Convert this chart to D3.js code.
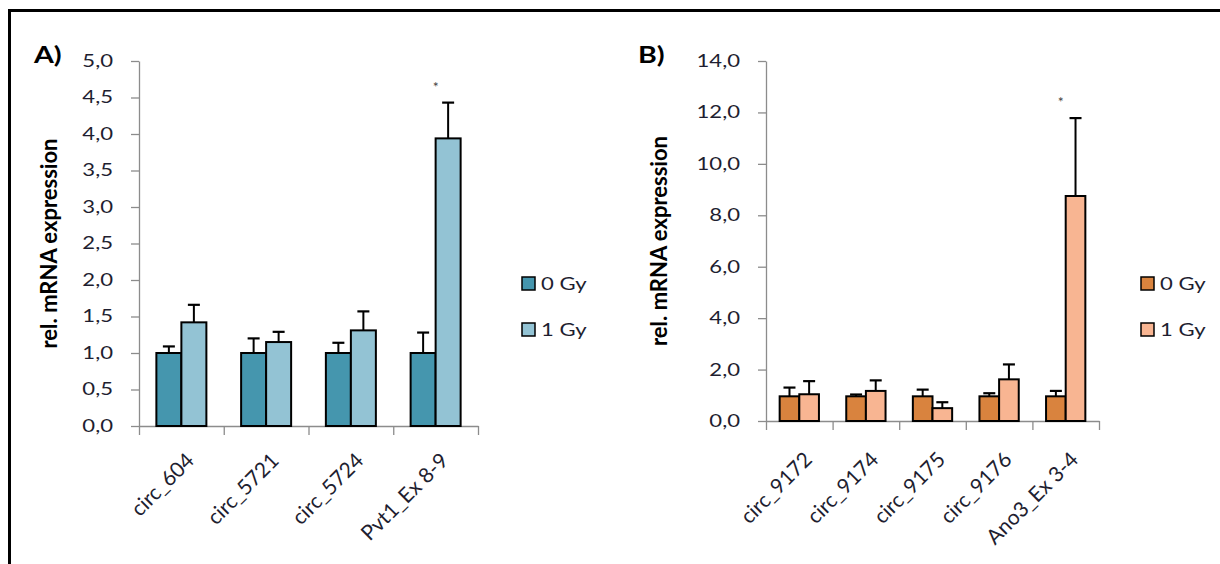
<!DOCTYPE html>
<html>
<head>
<meta charset="utf-8">
<script src="https://cdn.jsdelivr.net/npm/d3@7"></script>
<style>
  html, body { margin: 0; padding: 0; background: #fff; }
  svg { display: block; }
  text { font-family: Lato, "Open Sans", sans-serif; }
</style>
</head>
<body>
<svg id="chart" width="1220" height="564"></svg>
<script>
// ---- Data ----
const seriesNames = ["0 Gy", "1 Gy"];

const catsA = ["circ_604", "circ_5721", "circ_5724", "Pvt1_Ex 8-9"];
const a0 = [1.00, 1.00, 1.00, 1.00];
const a0Err = [0.09, 0.20, 0.14, 0.28];
const a1 = [1.42, 1.15, 1.31, 3.94];
const a1Err = [0.24, 0.14, 0.26, 0.49];
const ticksA = [0, 0.5, 1, 1.5, 2, 2.5, 3, 3.5, 4, 4.5, 5];
const sigA = ["", "", "", "*"];

const catsB = ["circ_9172", "circ_9174", "circ_9175", "circ_9176", "Ano3_Ex 3-4"];
const b0 = [0.96, 0.96, 0.96, 0.96, 0.96];
const b0Err = [0.34, 0.07, 0.26, 0.12, 0.21];
const b1 = [1.04, 1.17, 0.50, 1.62, 8.75];
const b1Err = [0.51, 0.41, 0.23, 0.58, 3.03];
const ticksB = [0, 2, 4, 6, 8, 10, 12, 14];
const sigB = ["", "", "", "", "*"];

const yTitle = "rel. mRNA expression";

// ---- Drawing ----
const svg = d3.select("#chart");
const TXT = "#1e1e30";
const SX = 1.3; // horizontal stretch of the lettering

function stretch(sel, s) {
  sel.each(function () {
    const t = d3.select(this);
    const x = +t.attr("x") || 0, y = +t.attr("y") || 0;
    t.attr("x", 0).attr("y", 0).attr("transform", `translate(${x},${y}) scale(${s},1)`);
  });
}

// frame (top and left edges visible)
svg.append("path")
  .attr("d", "M9.5,564 V10.5 H1220")
  .attr("fill", "none").attr("stroke", "#000").attr("stroke-width", 3);

const fmt = v => d3.format(".1f")(v).replace(".", ",");

function drawPanel(cfg) {
  const g = svg.append("g");
  const y = d3.scaleLinear().domain([0, cfg.ticks[cfg.ticks.length - 1]]).range([cfg.y0, cfg.y1]);
  const x = d3.scaleBand().domain(cfg.cats).range([cfg.x0, cfg.x1]).paddingInner(cfg.padIn).paddingOuter(cfg.padIn / 2);
  const xs = d3.scaleBand().domain(seriesNames).range([0, x.bandwidth()]);
  const idx = d3.scaleLinear().domain([0, cfg.cats.length]).range([cfg.x0, cfg.x1]);

  // y axis
  const ya = g.append("g").attr("transform", `translate(${cfg.x0},0)`)
    .call(d3.axisLeft(y).tickValues(cfg.ticks).tickFormat(fmt).tickSize(8).tickPadding(cfg.tickPad).tickSizeOuter(0));
  ya.select(".domain").attr("stroke", "#8c8c8c").attr("stroke-width", 1.3);
  ya.selectAll(".tick line").attr("stroke", "#8c8c8c").attr("stroke-width", 1.3);
  ya.selectAll(".tick text").attr("fill", TXT).style("font-size", "17px").attr("font-family", "Lato");
  stretch(ya.selectAll(".tick text"), SX);

  // x axis: boundary ticks
  const xa = g.append("g").attr("transform", `translate(0,${cfg.y0})`)
    .call(d3.axisBottom(idx).tickValues(d3.range(cfg.cats.length + 1)).tickFormat("").tickSize(9).tickSizeOuter(0));
  xa.select(".domain").attr("stroke", "#8c8c8c").attr("stroke-width", 1.3);
  xa.selectAll(".tick line").attr("stroke", "#8c8c8c").attr("stroke-width", 1.3);

  // category labels
  const xl = g.append("g").attr("transform", `translate(0,${cfg.y0})`)
    .call(d3.axisBottom(x).tickSize(0).tickPadding(0));
  xl.select(".domain").remove();
  xl.selectAll(".tick text")
    .attr("text-anchor", "end")
    .attr("fill", TXT)
    .style("font-size", "21px")
    .attr("font-family", "Lato")
    .attr("dy", 0)
    .attr("y", 0)
    .attr("transform", `translate(${cfg.lblDx},${cfg.lblDy}) rotate(-45)`);

  const series = [
    { name: seriesNames[0], vals: cfg.v0, errs: cfg.e0, color: cfg.colors[0] },
    { name: seriesNames[1], vals: cfg.v1, errs: cfg.e1, color: cfg.colors[1] }
  ];

  // error bars (drawn beneath bars)
  series.forEach(s => {
    cfg.cats.forEach((c, i) => {
      const cx = x(c) + xs(s.name) + xs.bandwidth() / 2;
      g.append("line").attr("x1", cx).attr("x2", cx)
        .attr("y1", y(s.vals[i])).attr("y2", y(s.vals[i] + s.errs[i]))
        .attr("stroke", "#000").attr("stroke-width", 2);
      g.append("line").attr("x1", cx - 6).attr("x2", cx + 6)
        .attr("y1", y(s.vals[i] + s.errs[i])).attr("y2", y(s.vals[i] + s.errs[i]))
        .attr("stroke", "#000").attr("stroke-width", 2.2);
    });
  });

  // bars
  series.forEach(s => {
    g.selectAll(null).data(cfg.cats).enter().append("rect")
      .attr("x", c => x(c) + xs(s.name))
      .attr("y", (c, i) => y(s.vals[i]))
      .attr("width", xs.bandwidth())
      .attr("height", (c, i) => y(0) - y(s.vals[i]))
      .attr("fill", s.color)
      .attr("stroke", "#000").attr("stroke-width", 2);
  });

  // significance marks
  cfg.cats.forEach((c, i) => {
    if (!cfg.sig[i]) return;
    const top = Math.max(cfg.v0[i] + cfg.e0[i], cfg.v1[i] + cfg.e1[i]);
    g.append("text").attr("x", x(c) + x.bandwidth() / 2 + cfg.sigDx).attr("y", y(top) - 11)
      .attr("text-anchor", "middle").attr("fill", "#444").style("font-size", "14px")
      .text(cfg.sig[i]);
  });

  // y title
  g.append("text")
    .attr("transform", `translate(${cfg.titleX},${(cfg.y0 + cfg.y1) / 2}) rotate(-90)`)
    .attr("text-anchor", "middle").attr("font-weight", "bold").style("font-size", "22px")
    .attr("fill", "#000").text(yTitle);

  // panel letter
  const lt = g.append("text").attr("x", cfg.letterX).attr("y", 63)
    .attr("font-weight", "bold").style("font-size", "22px").attr("fill", "#000")
    .attr("font-family", "Liberation Sans, Arial, sans-serif")
    .text(cfg.letter);
  stretch(lt, 1.3);

  // legend
  series.forEach((s, k) => {
    const ly = 277 + k * 46;
    g.append("rect").attr("x", cfg.legX).attr("y", ly).attr("width", 13).attr("height", 13)
      .attr("fill", s.color).attr("stroke", "#000").attr("stroke-width", 1.5);
    const t = g.append("text").attr("x", cfg.legX + 19).attr("y", ly + 13)
      .attr("fill", TXT).style("font-size", "17px").text(s.name);
    stretch(t, SX);
  });
}

drawPanel({
  cats: catsA, v0: a0, e0: a0Err, v1: a1, e1: a1Err, ticks: ticksA, sig: sigA,
  x0: 139, x1: 478, y0: 426, y1: 61, padIn: 0.41, tickPad: 18, sigDx: 0,
  colors: ["#4596ae", "#93c3d4"], lblDx: 14, lblDy: 36,
  titleX: 57, letter: "A)", letterX: 34, legX: 522
});

drawPanel({
  cats: catsB, v0: b0, e0: b0Err, v1: b1, e1: b1Err, ticks: ticksB, sig: sigB,
  x0: 766, x1: 1099, y0: 421, y1: 61, padIn: 0.41, tickPad: 18, sigDx: -5,
  colors: ["#d9833e", "#f8b592"], lblDx: 14, lblDy: 40,
  titleX: 667, letter: "B)", letterX: 638, legX: 1141
});
</script>
</body>
</html>
